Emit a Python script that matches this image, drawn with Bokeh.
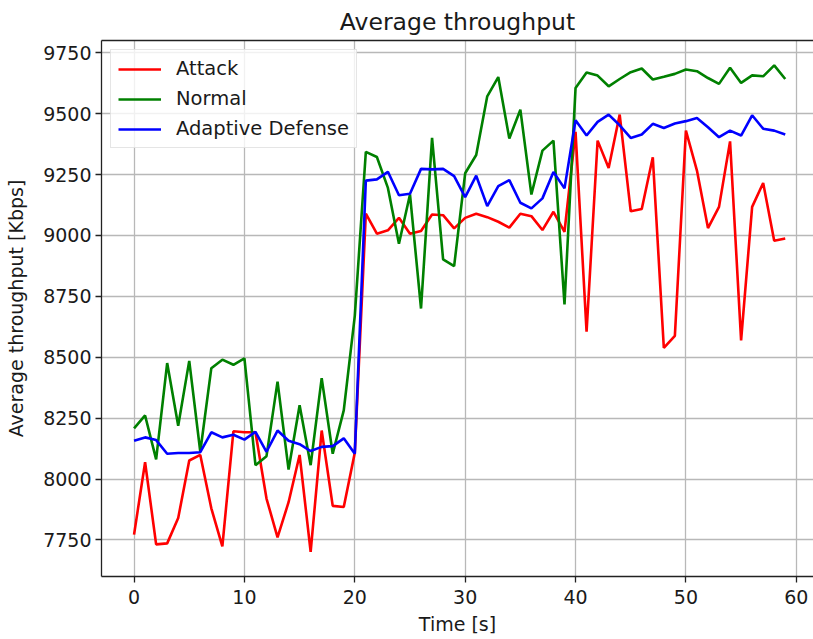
from bokeh.plotting import figure
from bokeh.models import Range1d, FixedTicker, LinearAxis
from bokeh.embed import file_html
from bokeh.resources import INLINE

# Time axis (seconds) and average throughput per scenario (Kbps)
time_s = list(range(60))

attack = [7772, 8069, 7732, 7736, 7840, 8076, 8099, 7880, 7724, 8196,
          8192, 8192, 7920, 7761, 7905, 8099, 7701, 8199, 7890, 7885,
          8108, 9089, 9007, 9021, 9072, 9007, 9018, 9086, 9083, 9029,
          9072, 9089, 9075, 9056, 9032, 9089, 9079, 9022, 9097, 9015,
          9425, 8605, 9389, 9277, 9496, 9099, 9108, 9321, 8538, 8588,
          9430, 9266, 9030, 9117, 9386, 8569, 9117, 9215, 8978, 8987]

normal = [8208, 8261, 8081, 8476, 8219, 8485, 8112, 8455, 8490, 8469,
          8495, 8057, 8094, 8400, 8039, 8303, 8057, 8414, 8104, 8282,
          8670, 9343, 9322, 9195, 8966, 9168, 8700, 9400, 8902, 8874,
          9255, 9330, 9571, 9650, 9398, 9516, 9168, 9348, 9389, 8717,
          9605, 9669, 9656, 9612, 9642, 9670, 9685, 9640, 9651, 9663,
          9681, 9674, 9646, 9622, 9688, 9626, 9657, 9653, 9698, 9642]

adaptive = [8157, 8171, 8160, 8104, 8107, 8107, 8110, 8192, 8171, 8182,
            8162, 8194, 8112, 8199, 8157, 8143, 8115, 8132, 8135, 8167,
            8104, 9225, 9230, 9261, 9165, 9171, 9273, 9271, 9273, 9243,
            9157, 9245, 9120, 9202, 9227, 9134, 9111, 9152, 9260, 9193,
            9473, 9410, 9466, 9496, 9452, 9400, 9414, 9458, 9441, 9459,
            9469, 9482, 9444, 9403, 9430, 9410, 9493, 9438, 9430, 9414]

x_ticks = [0, 10, 20, 30, 40, 50, 60]
y_ticks = [7750, 8000, 8250, 8500, 8750, 9000, 9250, 9500, 9750]

FONT = "DejaVu Sans"
TEXT = "#1a1a1a"
SPINE = "#222222"

p = figure(width=813, height=639, output_backend="svg", toolbar_location=None,
           x_range=Range1d(-2.95, 61.56), y_range=Range1d(7600, 9800),
           min_border_left=101, min_border_right=0, min_border_top=39,
           min_border_bottom=63, background_fill_color="white",
           border_fill_color="white")
p.outline_line_color = None

p.title.text = "Average throughput"
p.title.align = "center"
p.title.text_font = FONT
p.title.text_font_size = "23.5px"
p.title.text_font_style = "normal"
p.title.text_color = TEXT

for ax, ticks in ((p.xaxis[0], x_ticks), (p.yaxis[0], y_ticks)):
    ax.ticker = FixedTicker(ticks=ticks)
    ax.major_label_text_font = FONT
    ax.major_label_text_font_size = "19px"
    ax.major_label_text_color = TEXT
    ax.axis_label_text_font = FONT
    ax.axis_label_text_font_size = "19px"
    ax.axis_label_text_font_style = "normal"
    ax.axis_label_text_color = TEXT
    ax.major_tick_in = 0
    ax.major_tick_out = 6
    ax.major_tick_line_color = SPINE
    ax.major_tick_line_width = 1.3
    ax.minor_tick_line_color = None
    ax.axis_line_color = SPINE
    ax.axis_line_width = 1.3

p.xaxis.axis_label = "Time [s]"
p.xaxis.major_label_standoff = 7
p.xaxis.axis_label_standoff = 6
p.yaxis.axis_label = "Average throughput [Kbps]"
p.yaxis.major_label_standoff = 4
p.yaxis.axis_label_standoff = 13

# top spine
top = LinearAxis(ticker=FixedTicker(ticks=[]), major_label_text_font_size="0px",
                 axis_line_color=SPINE, axis_line_width=1.3,
                 major_tick_line_color=None, minor_tick_line_color=None,
                 major_label_standoff=0)
p.add_layout(top, "above")

p.xgrid.ticker = FixedTicker(ticks=x_ticks)
p.ygrid.ticker = FixedTicker(ticks=y_ticks)
for g in (p.xgrid[0], p.ygrid[0]):
    g.grid_line_color = "#b8b8b8"
    g.grid_line_width = 1.3

p.line(time_s, attack, line_color="#ff0000", line_width=2.6, legend_label="Attack")
p.line(time_s, normal, line_color="#008000", line_width=2.6, legend_label="Normal")
p.line(time_s, adaptive, line_color="#0000ff", line_width=2.6, legend_label="Adaptive Defense")

lg = p.legend[0]
lg.location = "top_left"
lg.margin = 9
lg.padding = 7
lg.spacing = 7
lg.glyph_width = 43
lg.glyph_height = 20
lg.label_height = 20
lg.label_standoff = 15
lg.label_text_font = FONT
lg.label_text_font_size = "19.5px"
lg.label_text_color = TEXT
lg.border_line_color = "#cccccc"
lg.border_line_width = 1.3
lg.background_fill_color = "white"
lg.background_fill_alpha = 0.8

open("out.html", "w").write(file_html(p, INLINE))
